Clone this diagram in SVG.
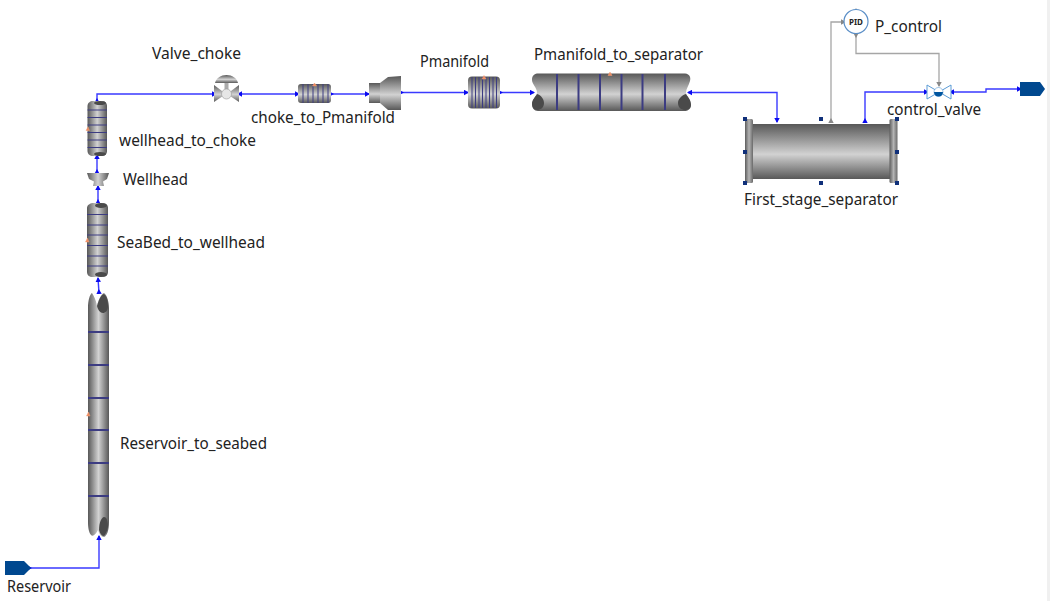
<svg xmlns="http://www.w3.org/2000/svg" width="1050" height="601" viewBox="0 0 1050 601">
<style>
text{font-family:"Noto Sans","DejaVu Sans",sans-serif;font-size:15.5px;fill:#222}
.flow{fill:none;stroke:#3a3aff;stroke-width:1.4}
.sig{fill:none;stroke:#a6a6a6;stroke-width:1.3}
.pv{fill:url(#gv)}
.ph{fill:url(#gh)}
.band{fill:none;stroke:#3c3c82;stroke-width:2}
.thin{fill:none;stroke:#3c3c82;stroke-width:1}
.dark{fill:#4a4a4a}
.port{fill:#f08a5a;stroke:#f0a080;stroke-width:.5}
.bnd{fill:#00488f}
.h{fill:#10307a}
</style>
<defs>
<linearGradient id="gv" x1="0" y1="0" x2="1" y2="0"><stop offset="0" stop-color="#585858"/><stop offset=".5" stop-color="#d2d2d2"/><stop offset="1" stop-color="#585858"/></linearGradient>
<linearGradient id="gh" x1="0" y1="0" x2="0" y2="1"><stop offset="0" stop-color="#585858"/><stop offset=".55" stop-color="#d2d2d2"/><stop offset="1" stop-color="#585858"/></linearGradient>
<linearGradient id="gf" x1="0" y1="0" x2="1" y2="0"><stop offset="0" stop-color="#5c5c5c"/><stop offset=".5" stop-color="#b4b4b4"/><stop offset="1" stop-color="#6a6a6a"/></linearGradient>
<marker id="arr" markerUnits="userSpaceOnUse" markerWidth="6" markerHeight="6" refX="4" refY="3" orient="auto-start-reverse"><path d="M0,.3L5,3L0,5.700Z" fill="#0a0af0"/></marker>
<marker id="arrf" markerUnits="userSpaceOnUse" markerWidth="6" markerHeight="6" refX="1" refY="3" orient="auto"><path d="M0,.3L5,3L0,5.700Z" fill="#0a0af0"/></marker>
<marker id="arrg" markerUnits="userSpaceOnUse" markerWidth="6" markerHeight="6" refX="4" refY="3" orient="auto"><path d="M0,.3L5,3L0,5.700Z" fill="#888"/></marker>
<marker id="arrgf" markerUnits="userSpaceOnUse" markerWidth="6" markerHeight="6" refX="1" refY="3" orient="auto"><path d="M0,.3L5,3L0,5.700Z" fill="#888"/></marker>
</defs>
<rect width="1050" height="601" fill="#fff"/>
<rect x="1047" width="3" height="601" fill="#f0f0f0"/>

<g id="connectors">
<path class="flow" marker-start="url(#arrf)" marker-end="url(#arr)" d="M28,568H99V536"/>
<path class="flow" marker-start="url(#arrf)" marker-end="url(#arr)" d="M99,293L98,278"/>
<path class="flow" marker-start="url(#arrf)" marker-end="url(#arr)" d="M98,203V186"/>
<path class="flow" marker-start="url(#arrf)" marker-end="url(#arr)" d="M97,173V155"/>
<path class="flow" marker-start="url(#arrf)" marker-end="url(#arr)" d="M97,102V94H216"/>
<path class="flow" marker-start="url(#arr)" marker-end="url(#arr)" d="M238,94H299"/>
<path class="flow" marker-start="url(#arrf)" marker-end="url(#arr)" d="M330,94H369"/>
<path class="flow" marker-start="url(#arrf)" marker-end="url(#arr)" d="M400,92.500H468"/>
<path class="flow" marker-start="url(#arrf)" marker-end="url(#arr)" d="M499,92.500H534"/>
<path class="flow" marker-start="url(#arr)" marker-end="url(#arr)" d="M688,92.500H777V122"/>
<path class="flow" marker-start="url(#arrf)" marker-end="url(#arr)" d="M865,122V92H928"/>
<path class="flow" marker-start="url(#arr)" marker-end="url(#arr)" d="M950,92H986V89H1021"/>
<path class="sig" marker-start="url(#arrgf)" marker-end="url(#arrg)" d="M831,122V22H845"/>
<path class="sig" marker-start="url(#arrgf)" marker-end="url(#arrg)" d="M856,34V53.500H939V86"/>
<path class="sig" marker-end="url(#arrg)" d="M856,11V9"/>
</g>

<g id="Reservoir">
<path class="bnd" d="M5,561H24L31,568L24,575H5Z"/>
<text x="7" y="592" textLength="64" lengthAdjust="spacingAndGlyphs">Reservoir</text>
</g>

<g id="Reservoir_to_seabed">
<path class="pv" d="M88,308C88,300 90,294 92,293C94,296 96,300 97,306C99,298 102,293 104,293C107,295 109,302 109,308V522C109,530 107,536 104,537C101,537 99,534 98,530C96,534 93,537 91,535C89,533 88,528 88,522Z"/>
<path class="dark" d="M97,306C99,298 102,294 104,294C107,296 108,302 108,306C108,311 105,313 103,313C100,313 98,310 97,306Z"/>
<path class="dark" d="M99,530C99,522 102,517 104,517C107,517 108,522 108,527C107,532 105,535 104,536C102,536 100,534 99,530Z"/>
<path class="band" d="M88,332H109M88,365H109M88,398H109M88,430H109M88,463H109M88,496H109"/>
<path class="port" d="M86.500,416L88.500,412L90,416Z"/>
<text x="120" y="449" textLength="147" lengthAdjust="spacingAndGlyphs">Reservoir_to_seabed</text>
</g>

<g id="SeaBed_to_wellhead">
<path class="pv" d="M87,208C87,205 90,203 94,203H102C106,203 108,205 108,208V272C108,275 106,277 102,277H93C89,277 87,275 87,272Z"/>
<ellipse class="dark" cx="101" cy="205.500" rx="6" ry="2.500"/>
<ellipse class="dark" cx="101" cy="274.500" rx="6" ry="2.500"/>
<path class="thin" d="M87,214.500H108M87,225H108M87,235H108M87,245.500H108M87,256H108M87,266H108"/>
<path class="port" d="M85.500,242L87.500,238L89,242Z"/>
<text x="117" y="248" textLength="148" lengthAdjust="spacingAndGlyphs">SeaBed_to_wellhead</text>
</g>

<g id="Wellhead">
<path class="pv" d="M87,173H109L107,179L103,181.500L104,186H93L94,181.500L89,179Z"/>
<text x="123" y="185" textLength="65" lengthAdjust="spacingAndGlyphs">Wellhead</text>
</g>

<g id="wellhead_to_choke">
<path class="pv" d="M87.500,106C87.500,103 90,101 93,101H102C105,101 107,103 107,106V151C107,154 105,156 102,156H93C90,156 87.500,154 87.500,151Z"/>
<ellipse class="dark" cx="100" cy="103" rx="6" ry="2"/>
<ellipse class="dark" cx="100" cy="154" rx="6" ry="2"/>
<path class="thin" d="M87.500,110H107M87.500,117.500H107M87.500,125H107M87.500,132.500H107M87.500,140H107M87.500,147.500H107"/>
<path class="port" d="M86,130.500L88,127L89.500,130.500Z"/>
<text x="119" y="146" textLength="137" lengthAdjust="spacingAndGlyphs">wellhead_to_choke</text>
</g>

<g id="Valve_choke">
<rect x="224.500" y="81" width="4" height="9" fill="#aaa"/>
<path class="ph" d="M215,83C216,78 221,75 226.500,75C232,75 237,78 238,83Z"/>
<path class="ph" d="M214,85L226,94L214,102Z"/>
<path class="ph" d="M239,85L227,94L239,102Z"/>
<circle cx="226.500" cy="94" r="5" fill="#e6e6e6" stroke="#999" stroke-width=".6"/>
<text x="152" y="59" textLength="89" lengthAdjust="spacingAndGlyphs">Valve_choke</text>
</g>

<g id="choke_to_Pmanifold">
<rect class="ph" x="298" y="84" width="33" height="19" rx="3"/>
<path class="thin" d="M303,84V103M308,84V103M313,84V103M318,84V103M323,84V103M328,84V103"/>
<path class="port" d="M312.500,86L314.500,83L316.500,86Z"/>
<text x="251" y="123" textLength="144" lengthAdjust="spacingAndGlyphs">choke_to_Pmanifold</text>
</g>

<g id="diffuser">
<rect class="ph" x="369" y="83" width="11" height="20"/>
<path class="ph" d="M380,83L388,77L401,76V110H388L380,103Z"/>
</g>

<g id="Pmanifold">
<rect class="ph" x="468" y="76.500" width="32" height="32" rx="4"/>
<path class="thin" d="M472,77V108M475.500,77V108M479,77V108M482.500,77V108M486,77V108M489.500,77V108M493,77V108M496.500,77V108"/>
<path class="port" d="M482,79L484,75.500L486,79Z"/>
<text x="420" y="67" textLength="69" lengthAdjust="spacingAndGlyphs">Pmanifold</text>
</g>

<g id="Pmanifold_to_separator">
<path class="ph" d="M537,73.500H685C690,74 691,78 690,81C689,85 686,89 686,92.500C686,96 691,100 691,105C691,109 688,111 684,111H538C534,111 532,108 532,104C532,100 537,96 537,92.500C537,88 532,84 532,80C532,76 534,74 537,73.500Z"/>
<path class="dark" d="M537,94C541,95 544,99 544,103C544,108 540,110 537,110C534,110 532,107 532,104C532,100 535,97 537,94Z"/>
<path class="dark" d="M686,94C682,95 678,99 678,103C678,108 682,110 685,110C688,110 691,108 691,105C691,100 688,97 686,94Z"/>
<path class="band" d="M557,74V110M578.500,74V110M600,74V110M621.500,74V110M642.500,74V110M665,74V110"/>
<path class="port" d="M608,75.500L610,72L612,75.500Z"/>
<text x="534" y="60" textLength="169" lengthAdjust="spacingAndGlyphs">Pmanifold_to_separator</text>
</g>

<g id="First_stage_separator">
<rect class="ph" x="753" y="124" width="137" height="55"/>
<rect x="745" y="119" width="8" height="64" rx="1.500" fill="url(#gf)"/>
<rect x="889.500" y="119" width="8" height="64" rx="1.500" fill="url(#gf)"/>
<path class="h" d="M743,117h4v4h-4zM819,117h4v4h-4zM895,117h4v4h-4zM743,150h4v4h-4zM895,150h4v4h-4zM743,181h4v4h-4zM819,181h4v4h-4zM895,181h4v4h-4z"/>
<text x="744" y="205" textLength="154" lengthAdjust="spacingAndGlyphs">First_stage_separator</text>
</g>

<g id="P_control">
<circle cx="856" cy="21.500" r="12" fill="#fff" stroke="#5b8fc7" stroke-width="1.200"/>
<text x="856" y="24.500" text-anchor="middle" style="font-size:8px;font-weight:700">PID</text>
<text x="875" y="32" textLength="67" lengthAdjust="spacingAndGlyphs">P_control</text>
</g>

<g id="control_valve">
<path d="M927,85L939,92L927,99ZM951,85L939,92L951,99Z" fill="#fff" stroke="#5b9bd5" stroke-width="1"/>
<circle cx="938.500" cy="92" r="4.500" fill="#fff" stroke="#5b9bd5" stroke-width=".6"/>
<path d="M934,92A4.500,4.500 0 0 0 943,92Z" fill="#00559f"/>
<text x="887" y="115" textLength="94" lengthAdjust="spacingAndGlyphs">control_valve</text>
</g>

<g id="sink">
<path class="bnd" d="M1020,82H1040L1045,89L1040,96H1020Z"/>
</g>
</svg>
